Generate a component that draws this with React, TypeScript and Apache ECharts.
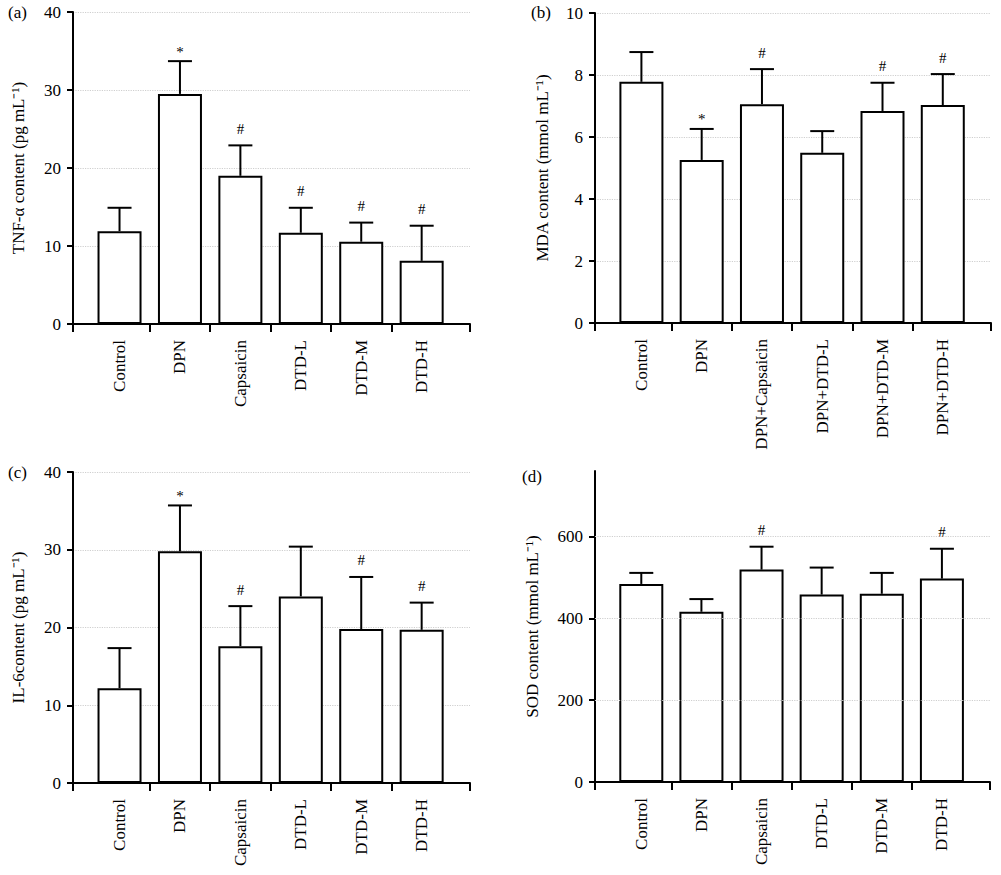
import React, { useEffect, useRef } from "react";
import * as echarts from "echarts";

const groupsShort = ["Control", "DPN", "Capsaicin", "DTD-L", "DTD-M", "DTD-H"];
const groupsLong = ["Control", "DPN", "DPN+Capsaicin", "DPN+DTD-L", "DPN+DTD-M", "DPN+DTD-H"];

const tnfMean = [11.9, 29.5, 19.0, 11.7, 10.55, 8.1];
const tnfErr = [3.0, 4.2, 3.9, 3.2, 2.45, 4.5];
const tnfMarks = ["", "*", "#", "#", "#", "#"];

const mdaMean = [7.78, 5.26, 7.06, 5.49, 6.84, 7.03];
const mdaErr = [0.96, 1.0, 1.13, 0.7, 0.91, 1.0];
const mdaMarks = ["", "*", "#", "", "#", "#"];

const il6Mean = [12.2, 29.8, 17.6, 24.0, 19.8, 19.7];
const il6Err = [5.15, 5.9, 5.15, 6.4, 6.7, 3.5];
const il6Marks = ["", "*", "#", "", "#", "#"];

const sodMean = [484, 416, 519, 458, 460, 497];
const sodErr = [27, 31, 56, 66, 51, 73];
const sodMarks = ["", "", "#", "", "", "#"];

const yTicksA = [0, 10, 20, 30, 40];
const yTicksB = [0, 2, 4, 6, 8, 10];
const yTicksC = [0, 10, 20, 30, 40];
const yTicksD = [0, 200, 400, 600];

const FONT = '"Liberation Serif", "Times New Roman", serif';
const TXT = "#000";

type Panel = {
  tag: string;
  cats: string[];
  mean: number[];
  err: number[];
  marks: string[];
  ticks: number[];
  yMax: number;
  yName: string;
  grid: { left: number; top: number; width: number; height: number };
  nameGap: number;
  customGrid: boolean;
  tagPos: [number, number];
};

const panels: Panel[] = [
  {
    tag: "(a)", cats: groupsShort, mean: tnfMean, err: tnfErr, marks: tnfMarks,
    ticks: yTicksA, yMax: 40, yName: "TNF-α content (pg mL⁻¹)",
    grid: { left: 73, top: 12, width: 397, height: 312 }, nameGap: 46, customGrid: false, tagPos: [8, 13],
  },
  {
    tag: "(b)", cats: groupsLong, mean: mdaMean, err: mdaErr, marks: mdaMarks,
    ticks: yTicksB, yMax: 10, yName: "MDA content (mmol mL⁻¹)",
    grid: { left: 595, top: 13, width: 396, height: 310 }, nameGap: 44, customGrid: false, tagPos: [531, 13],
  },
  {
    tag: "(c)", cats: groupsShort, mean: il6Mean, err: il6Err, marks: il6Marks,
    ticks: yTicksC, yMax: 40, yName: "IL-6content (pg mL⁻¹)",
    grid: { left: 73, top: 472, width: 397, height: 311 }, nameGap: 46, customGrid: false, tagPos: [8, 473],
  },
  {
    tag: "(d)", cats: groupsShort, mean: sodMean, err: sodErr, marks: sodMarks,
    ticks: yTicksD, yMax: 760, yName: "SOD content (mmol mL⁻¹)",
    grid: { left: 595, top: 471, width: 395, height: 311 }, nameGap: 54, customGrid: true, tagPos: [522, 477],
  },
];

const X_MIN = -0.77;
const X_MAX = 5.8;

export default function App() {
  const ref = useRef<HTMLDivElement>(null);
  useEffect(() => {
    if (!ref.current) return;
    const chart = echarts.init(ref.current, null, { renderer: "svg" });

    const grids: any[] = [];
    const xAxes: any[] = [];
    const yAxes: any[] = [];
    const series: any[] = [];
    const graphics: any[] = [];

    panels.forEach((p, k) => {
      grids.push({ ...p.grid, containLabel: false });
      xAxes.push({
        type: "value",
        gridIndex: k,
        min: X_MIN,
        max: X_MAX,
        axisLine: { show: true, onZero: false, lineStyle: { color: "#000", width: 2 } },
        axisTick: {
          show: true,
          length: 8,
          customValues: [X_MIN, 0.5, 1.5, 2.5, 3.5, 4.5, X_MAX],
          lineStyle: { color: "#000", width: 2 },
        },
        axisLabel: {
          show: true,
          customValues: p.cats.map((_, i) => i),
          formatter: (v: number) => p.cats[Math.round(v)] ?? "",
          rotate: 90,
          margin: 16,
          color: TXT,
          fontFamily: FONT,
          fontSize: 17,
        },
        splitLine: { show: false },
      });
      yAxes.push({
        type: "value",
        gridIndex: k,
        min: 0,
        max: p.yMax,
        interval: p.ticks[1] - p.ticks[0],
        name: p.yName,
        nameLocation: "middle",
        nameRotate: 90,
        nameGap: p.nameGap,
        nameTextStyle: { color: TXT, fontFamily: FONT, fontSize: 17 },
        axisLine: { show: true, onZero: false, lineStyle: { color: "#000", width: 2 } },
        axisTick: {
          show: true,
          length: 6,
          customValues: p.ticks,
          lineStyle: { color: "#000", width: 2 },
        },
        axisLabel: {
          show: true,
          customValues: p.ticks,
          margin: 12,
          color: TXT,
          fontFamily: FONT,
          fontSize: 17,
        },
        splitLine: {
          show: !p.customGrid,
          lineStyle: { color: "#cfcfcf", type: "dotted", width: 1.2 },
        },
      });

      if (p.customGrid) {
        series.push({
          type: "line",
          xAxisIndex: k,
          yAxisIndex: k,
          data: [],
          z: 1,
          silent: true,
          markLine: {
            silent: true,
            symbol: "none",
            label: { show: false },
            lineStyle: { color: "#cfcfcf", type: "dotted", width: 1.2 },
            data: p.ticks.filter((t) => t > 0).map((t) => ({ yAxis: t })),
          },
        });
      }

      series.push({
        type: "bar",
        xAxisIndex: k,
        yAxisIndex: k,
        barWidth: 44,
        z: 2,
        data: p.mean.map((m, i) => [i, m]),
        itemStyle: { color: "#fff", borderColor: "#000", borderWidth: 2 },
      });

      series.push({
        type: "custom",
        xAxisIndex: k,
        yAxisIndex: k,
        z: 3,
        data: p.mean.map((m, i) => [i, m, p.err[i]]),
        encode: { x: 0, y: [1, 2] },
        renderItem: (params: any, api: any) => {
          const i = api.value(0);
          const m = api.value(1);
          const e = api.value(2);
          const base = api.coord([i, m]);
          const top = api.coord([i, m + e]);
          const children: any[] = [
            {
              type: "line",
              shape: { x1: base[0], y1: base[1], x2: top[0], y2: top[1] },
              style: { stroke: "#000", lineWidth: 2 },
            },
            {
              type: "line",
              shape: { x1: top[0] - 12, y1: top[1], x2: top[0] + 12, y2: top[1] },
              style: { stroke: "#000", lineWidth: 2 },
            },
          ];
          const mk = p.marks[params.dataIndex];
          if (mk) {
            children.push({
              type: "text",
              x: top[0],
              y: top[1] - (mk === "*" ? 2 : 9),
              style: {
                text: mk,
                fill: TXT,
                fontFamily: FONT,
                fontSize: 15,
                align: "center",
                verticalAlign: "bottom",
              },
            });
          }
          return { type: "group", children };
        },
      });

      graphics.push({
        type: "text",
        left: p.tagPos[0],
        top: p.tagPos[1] - 9,
        style: { text: p.tag, fill: TXT, fontFamily: FONT, fontSize: 17 },
      });
    });

    chart.setOption({
      animation: false,
      backgroundColor: "#fff",
      grid: grids,
      xAxis: xAxes,
      yAxis: yAxes,
      series,
      graphic: graphics,
    });
    return () => chart.dispose();
  }, []);

  return (
    <div
      ref={ref}
      style={{ position: "absolute", left: 0, top: 0, width: 1001, height: 875, background: "#fff" }}
    />
  );
}
